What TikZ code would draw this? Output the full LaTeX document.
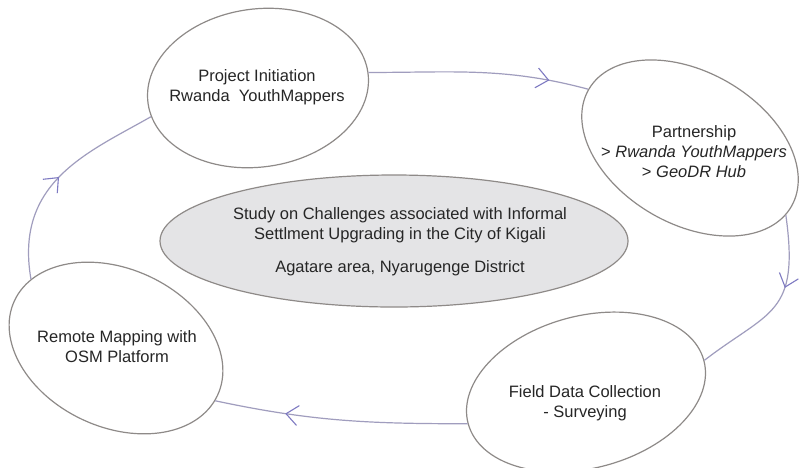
\documentclass[tikz,border=0pt]{standalone}
\usepackage{fontspec}
\setmainfont{Liberation Sans}
\usetikzlibrary{shapes.geometric,arrows.meta,decorations.markings}
\definecolor{ringgray}{HTML}{8E8A88}
\definecolor{linklav}{HTML}{A09DBE}
\definecolor{arrowlav}{HTML}{7E7AC2}
\definecolor{hubfill}{HTML}{E4E4E6}
\definecolor{txtgray}{HTML}{262626}
\begin{document}
\begin{tikzpicture}[x=1pt,y=-1pt,
  ring/.style={ellipse, draw=ringgray, line width=1.2pt, inner sep=0pt},
  lbl/.style={align=center, text=txtgray, font=\fontsize{16.5}{20}\selectfont},
  link/.style={draw=linklav, line width=1.2pt, postaction={decorate},
    decoration={markings, mark=at position #1 with {\arrow{Straight Barb[length=12pt,width=20pt,color=arrowlav,line width=1.1pt]}}}}
]
\useasboundingbox (0,0) rectangle (799,467);
\fill[white] (0,0) rectangle (799,467);

% ellipses
\node[ring, minimum width=222pt, minimum height=158pt, rotate=8] (e1) at (258,88) {};
\node[ring, minimum width=234pt, minimum height=152pt, rotate=-30] (e2) at (690,148) {};
\node[ring, minimum width=244pt, minimum height=152pt, rotate=15] (e3) at (586,392) {};
\node[ring, minimum width=224pt, minimum height=158pt, rotate=-25] (e4) at (116,348) {};
\node[ring, fill=hubfill, minimum width=468pt, minimum height=132pt] (hub) at (394,241) {};

% texts
\node[lbl] (t1) at (257,87) {Project Initiation\\Rwanda\ \ YouthMappers};
\node[lbl] (t2) at (694,152) {Partnership\\> \textit{Rwanda YouthMappers}\\> \textit{GeoDR Hub}};
\node[lbl] (t3) at (585,403) {Field Data Collection\\- Surveying};
\node[lbl] (t4) at (117,346.5) {Remote Mapping with\\OSM Platform};
\node[lbl] (t5) at (400,241.5) {Study on Challenges associated with Informal\\Settlment Upgrading in the City of Kigali\\[13pt]Agatare area, Nyarugenge District};

% connectors
\path[link=0.82] (e1.0) to[out=0,in=165] (e2.west);
\path[link=0.4] (e2.-5) .. controls +(14,100) and +(65,-50) .. (e3.east);
\path[link=0.72] (e3.west) to[out=180,in=-12] (e4.-3);
\path[link=0.5] (e4.166) .. controls +(-17,-98) and +(-61,35) .. (e1.187);
\end{tikzpicture}
\end{document}
